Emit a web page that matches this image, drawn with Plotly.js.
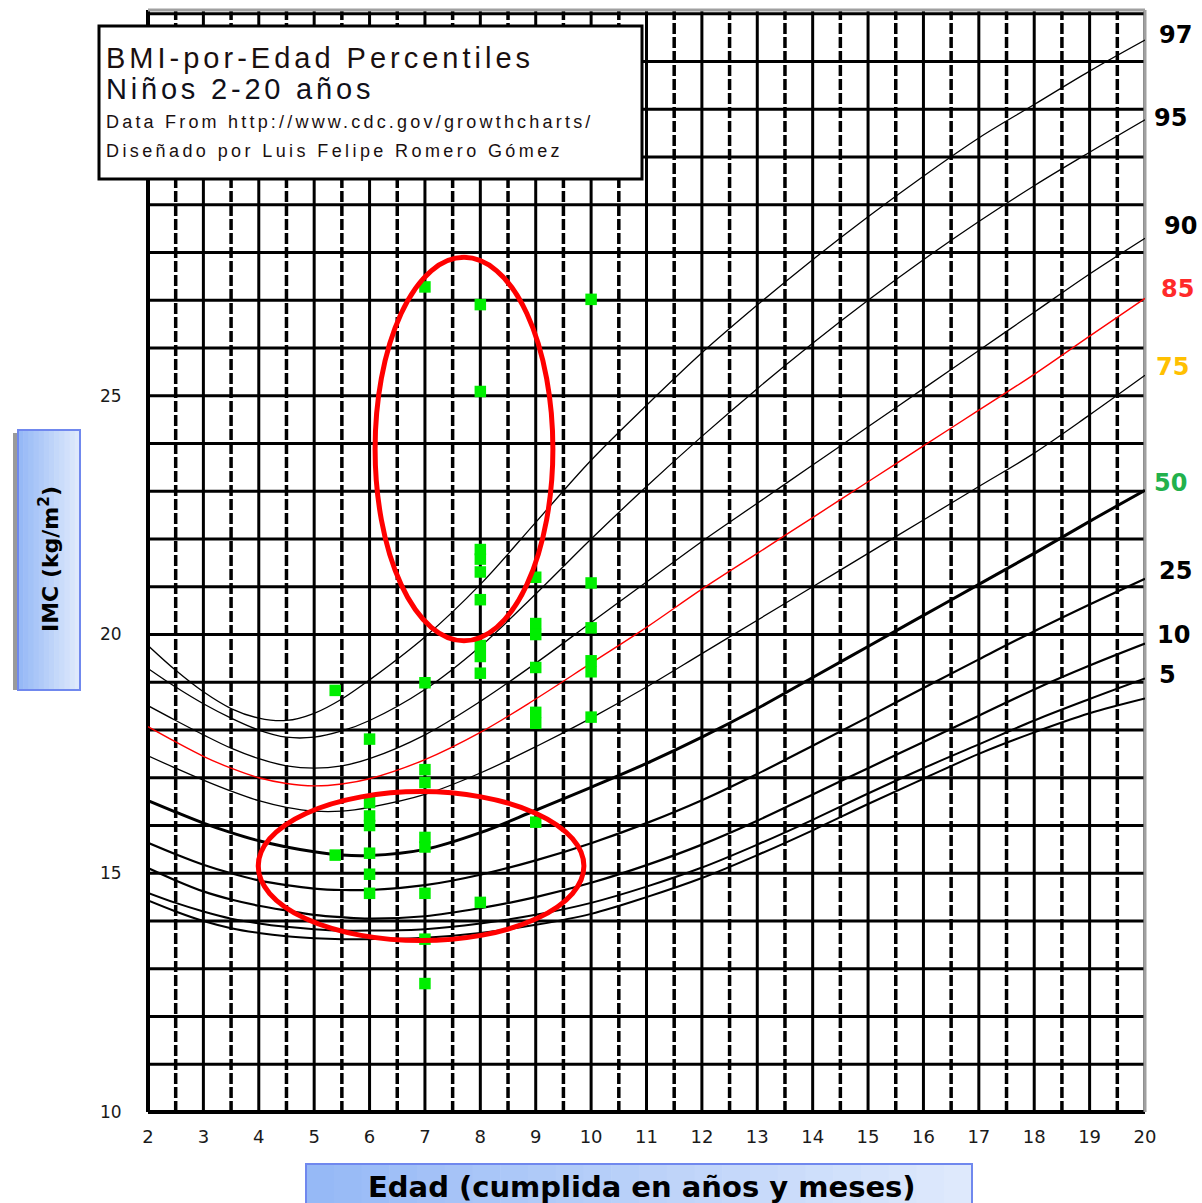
<!DOCTYPE html>
<html><head><meta charset="utf-8">
<script src="https://cdn.plot.ly/plotly-3.0.1.min.js"></script>
<style>html,body{margin:0;padding:0;background:#fff;overflow:hidden}</style>
</head><body><div id="chart" style="width:1202px;height:1203px"></div>
<script>
// ---- Percentile curves (BMI vs age, boys 2-20) ----
const ages = [2,2.5,3,3.5,4,4.5,5,5.5,6,7,8,9,10,11,12,13,14,15,16,17,18,19,20];
const p3  = [14.43,14.20,14.00,13.85,13.75,13.68,13.64,13.62,13.62,13.65,13.75,13.92,14.15,14.50,14.90,15.38,15.90,16.45,16.98,17.50,17.95,18.35,18.66];
const p5  = [14.59,14.38,14.20,14.05,13.95,13.88,13.83,13.80,13.80,13.83,13.95,14.13,14.38,14.72,15.12,15.60,16.12,16.67,17.20,17.70,18.20,18.65,19.08];
const p10 = [15.11,14.85,14.62,14.45,14.32,14.22,14.13,14.08,14.05,14.10,14.27,14.50,14.80,15.17,15.60,16.10,16.65,17.20,17.75,18.30,18.85,19.35,19.81];
const p25 = [15.64,15.40,15.18,15.00,14.85,14.75,14.68,14.65,14.65,14.75,14.97,15.27,15.63,16.05,16.53,17.08,17.67,18.27,18.88,19.48,20.07,20.63,21.17];
const p50 = [16.52,16.28,16.05,15.85,15.68,15.55,15.45,15.38,15.37,15.50,15.85,16.32,16.80,17.30,17.85,18.45,19.10,19.75,20.40,21.05,21.70,22.37,23.02];
const p75 = [17.46,17.20,16.95,16.72,16.52,16.38,16.30,16.30,16.38,16.65,17.10,17.65,18.25,18.90,19.60,20.30,21.00,21.70,22.40,23.10,23.80,24.60,25.43];
const p85 = [18.07,17.75,17.45,17.20,17.00,16.88,16.83,16.87,16.98,17.38,17.95,18.65,19.40,20.15,20.95,21.70,22.45,23.20,23.95,24.70,25.45,26.25,27.04];
const p90 = [18.51,18.20,17.90,17.62,17.40,17.25,17.20,17.25,17.40,17.90,18.60,19.40,20.25,21.10,21.95,22.75,23.55,24.35,25.15,25.95,26.75,27.55,28.30];
const p95 = [19.29,18.90,18.55,18.25,18.00,17.85,17.85,17.98,18.20,18.85,19.75,20.85,22.00,23.10,24.15,25.15,26.10,27.00,27.85,28.65,29.40,30.10,30.78];
const p97 = [19.77,19.25,18.80,18.45,18.25,18.20,18.35,18.65,19.05,19.95,21.05,22.35,23.65,24.80,25.90,26.90,27.85,28.75,29.60,30.40,31.10,31.80,32.45];

// ---- Right-side percentile labels ----
const pctLabels = ['97','95','90','85','75','50','25','10','5'];
const pctLabelY = [32.56,30.82,28.55,27.23,25.60,23.17,21.34,19.98,19.16];
const pctLabelColors = ['#000000','#000000','#000000','#ff2a2a','#ffc000','#22b14c','#000000','#000000','#000000'];

// ---- Measured children (age, BMI) ----
const childAge = [5.38,5.38,
  6,6,6,6,6,6,6,
  7,7,7,7,7,7,7,7,7,
  8,8,8,8,8,8,8,8,8,8,
  9,9,9,9,9,9,9,
  10,10,10,10,10,10];
const childBMI = [18.83,15.38,
  17.81,16.48,16.20,16.00,15.42,14.98,14.58,
  27.28,18.99,17.17,16.90,15.75,15.55,14.58,13.62,12.69,
  26.91,25.09,21.78,21.58,21.31,20.73,19.77,19.54,19.19,14.39,
  21.20,20.23,20.00,19.31,18.37,18.14,16.07,
  27.02,21.08,20.14,19.45,19.22,18.27];

// ---- Axis ticks ----
const xTicks = [2,3,4,5,6,7,8,9,10,11,12,13,14,15,16,17,18,19,20];
const yTicks = [10,15,20,25];
const xRange = [2,20];
const yRange = [10,33.08];

// ---- Highlight ellipses (age/BMI extents) ----
const ellipseUpper = {ageFrom:6.10, ageTo:9.31, bmiFrom:19.87, bmiTo:27.90};
const ellipseLower = {ageFrom:3.99, ageTo:9.87, bmiFrom:13.59, bmiTo:16.71};

// ================= build =================
const L=148, R=1145, T=10, B=1112;
const px = x => (x - L)/(R - L);
const py = y => (B - y)/(B - T);

const curveDefs = [
  {y:p3,  c:'#000', w:2.0},
  {y:p5,  c:'#000', w:2.0},
  {y:p10, c:'#000', w:2.2},
  {y:p25, c:'#000', w:2.2},
  {y:p50, c:'#000', w:3.0},
  {y:p75, c:'#000', w:1.3},
  {y:p85, c:'#ff0000', w:1.4},
  {y:p90, c:'#000', w:1.3},
  {y:p95, c:'#000', w:1.3},
  {y:p97, c:'#000', w:1.3}
];
const traces = curveDefs.map(d => ({
  type:'scatter', mode:'lines', x:ages, y:d.y,
  line:{color:d.c, width:d.w, shape:'spline', smoothing:1},
  hoverinfo:'skip', showlegend:false
}));
traces.push({
  type:'scatter', mode:'markers', x:childAge, y:childBMI,
  marker:{symbol:'square', size:11.5, color:'#00ee00', line:{width:0}},
  showlegend:false
});

const shapes = [];
for (let v = Math.ceil(yRange[0]); v <= Math.floor(yRange[1]); v++) {
  shapes.push({type:'line', layer:'below', xref:'paper', yref:'y', x0:0, x1:1, y0:v, y1:v,
    line:{color:'#000', width:3}});
}
for (let a = xRange[0]; a <= xRange[1] + 1e-9; a += 0.5) {
  const isInt = Math.abs(a - Math.round(a)) < 1e-9;
  shapes.push({type:'line', layer:'below', xref:'x', yref:'paper', x0:a, x1:a, y0:0, y1:1,
    line:isInt ? {color:'#000', width:3} : {color:'#000', width:3.5, dash:'11px,3px'}});
}
shapes.push({type:'line', layer:'below', xref:'paper', yref:'paper', x0:0, x1:0, y0:0, y1:1, line:{color:'#000', width:4}});
shapes.push({type:'line', layer:'below', xref:'paper', yref:'paper', x0:0, x1:1, y0:0, y1:0, line:{color:'#000', width:4}});
shapes.push({type:'line', layer:'below', xref:'paper', yref:'paper', x0:1, x1:1, y0:0, y1:1, line:{color:'#a0a0a0', width:3}});
shapes.push({type:'line', layer:'below', xref:'paper', yref:'paper', x0:0, x1:1, y0:1, y1:1, line:{color:'#a0a0a0', width:3}});

[ellipseUpper, ellipseLower].forEach(e => shapes.push({type:'circle', layer:'above', xref:'x', yref:'y',
  x0:e.ageFrom, x1:e.ageTo, y0:e.bmiFrom, y1:e.bmiTo, line:{color:'#ff0000', width:5}}));

shapes.push({type:'rect', layer:'above', xref:'paper', yref:'paper',
  x0:px(99), x1:px(642), y0:py(179), y1:py(26), fillcolor:'#ffffff', line:{color:'#000', width:3}});

function gradBox(x0,x1,y0,y1,steps){
  const c0=[150,185,246], c1=[222,233,252];
  for(let i=0;i<steps;i++){
    const t=i/(steps-1);
    const col=`rgb(${Math.round(c0[0]+(c1[0]-c0[0])*t)},${Math.round(c0[1]+(c1[1]-c0[1])*t)},${Math.round(c0[2]+(c1[2]-c0[2])*t)})`;
    const a = x0 + (x1-x0)*i/steps, b = x0 + (x1-x0)*(i+1)/steps;
    shapes.push({type:'rect', layer:'above', xref:'paper', yref:'paper',
      x0:px(a), x1:px(b+0.6), y0:py(y1), y1:py(y0), fillcolor:col, line:{width:0}});
  }
  shapes.push({type:'rect', layer:'above', xref:'paper', yref:'paper',
    x0:px(x0), x1:px(x1), y0:py(y1), y1:py(y0), fillcolor:'rgba(0,0,0,0)', line:{color:'#7088ee', width:2}});
}
shapes.push({type:'rect', layer:'above', xref:'paper', yref:'paper', x0:px(13), x1:px(20), y0:py(690), y1:py(433), fillcolor:'#9a9a9a', line:{width:0}});
gradBox(18,80,430,690,12);
gradBox(306,972,1164,1206,24);

const annotations = [];
const titleFont = 'Liberation Sans, Arial, sans-serif';
const sp = (t, s) => `<span style="letter-spacing:${s}px">${t}</span>`;
annotations.push({xref:'paper', yref:'paper', x:px(104), y:py(58), xanchor:'left', yanchor:'middle', showarrow:false,
  text:sp('BMI-por-Edad Percentiles',4), font:{family:titleFont, size:29, color:'#1a1010'}});
annotations.push({xref:'paper', yref:'paper', x:px(104), y:py(89), xanchor:'left', yanchor:'middle', showarrow:false,
  text:sp('Niños 2-20 años',3.8), font:{family:titleFont, size:29, color:'#10101a'}});
annotations.push({xref:'paper', yref:'paper', x:px(104), y:py(122), xanchor:'left', yanchor:'middle', showarrow:false,
  text:sp('Data From http://www.cdc.gov/growthcharts/',3.2), font:{family:titleFont, size:18, color:'#1a1010'}});
annotations.push({xref:'paper', yref:'paper', x:px(104), y:py(151), xanchor:'left', yanchor:'middle', showarrow:false,
  text:sp('Diseñado por Luis Felipe Romero Gómez',3.4), font:{family:titleFont, size:18, color:'#1a1010'}});

const pctLabelX = [1175,1170,1180,1177,1172,1170,1175,1173,1167];
pctLabels.forEach((t,i) => annotations.push({xref:'paper', yref:'y', x:px(pctLabelX[i]), y:pctLabelY[i], xanchor:'center', yanchor:'middle',
  showarrow:false, text:'<b>'+t+'</b>', font:{family:'DejaVu Sans, sans-serif', size:24, color:pctLabelColors[i]}}));

annotations.push({xref:'paper', yref:'paper', x:px(49), y:py(559), xanchor:'center', yanchor:'middle', showarrow:false,
  textangle:-90, text:'<b>IMC (kg/m<sup>2</sup>)</b>', font:{family:'DejaVu Sans, sans-serif', size:22, color:'#000'}});
annotations.push({xref:'paper', yref:'paper', x:px(642), y:py(1187), xanchor:'center', yanchor:'middle', showarrow:false,
  text:'<b>Edad (cumplida en años y meses)</b>', font:{family:'DejaVu Sans, sans-serif', size:29, color:'#000'}});

const layout = {
  width:1202, height:1203,
  margin:{l:L, r:1202-R, t:T, b:1203-B, pad:0},
  paper_bgcolor:'#fff', plot_bgcolor:'#fff',
  showlegend:false,
  xaxis:{range:xRange, tickvals:xTicks, ticktext:xTicks.map(String), showgrid:false, zeroline:false, showline:false,
    ticks:'outside', ticklen:8, tickcolor:'rgba(0,0,0,0)', tickfont:{family:'DejaVu Sans, sans-serif', size:18, color:'#1a1a1a'}},
  yaxis:{range:yRange, tickvals:yTicks, ticktext:yTicks.map(String), showgrid:false, zeroline:false, showline:false,
    ticks:'outside', ticklen:22, tickcolor:'rgba(0,0,0,0)', tickfont:{family:'DejaVu Sans, sans-serif', size:17, color:'#1a1a1a'}},
  shapes:shapes, annotations:annotations
};
Plotly.newPlot('chart', traces, layout, {staticPlot:true, displayModeBar:false});
</script></body></html>
